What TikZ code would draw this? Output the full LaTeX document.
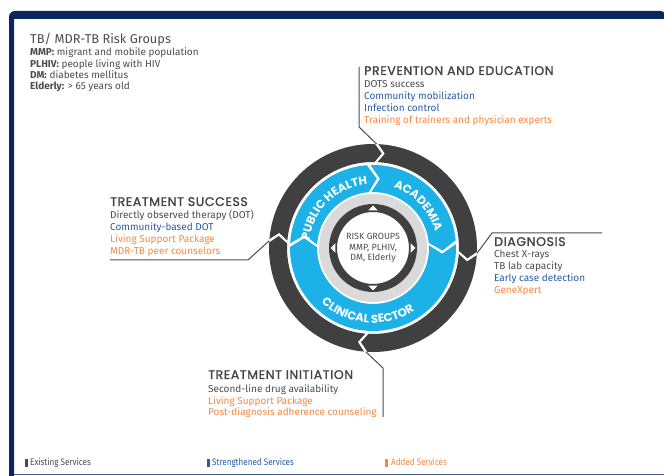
\documentclass[tikz,border=0pt]{standalone}
\usepackage{fontspec}
\setmainfont{Fira Sans}
\newfontfamily\legendfont[FakeStretch=0.85]{Fira Sans}
\newfontfamily\headfont[FakeBold=1.5, LetterSpace=5]{Poppins}
\newfontfamily\wheelfont{Poppins}
\usetikzlibrary{decorations.text}

\definecolor{navy}{HTML}{0B2561}
\definecolor{ringdark}{HTML}{404040}
\definecolor{ringblue}{HTML}{1CB2E8}
\definecolor{ringgray}{HTML}{DADADA}
\definecolor{txtgray}{HTML}{4D4D4D}
\definecolor{txtblue}{HTML}{2B5CA6}
\definecolor{txtorange}{HTML}{F28A45}

\newcommand\rlfont{\wheelfont\fontsize{11.6}{13}\selectfont\bfseries}

% ring piece: point at its clockwise end, notch at the other end
% #1 colour, #2 inner r, #3 outer r, #4 from joint, #5 to joint, #6 tip depth
\newcommand\chevring[6]{%
  \pgfmathsetmacro\chevmid{(#2+#3)/2}%
  \pgfmathsetmacro\chevgap{1.6/\chevmid*180/pi}%
  \pgfmathsetmacro\chevtip{#6/\chevmid*180/pi}%
  \pgfmathsetmacro\chevfrom{#4-\chevgap}%
  \pgfmathsetmacro\chevto{#5+\chevgap}%
  \fill[#1] (\chevfrom:#3) arc[start angle=\chevfrom, end angle=\chevto, radius=#3]
    -- ({\chevto-\chevtip}:\chevmid) -- (\chevto:#2)
    arc[start angle=\chevto, end angle=\chevfrom, radius=#2]
    -- ({\chevfrom-\chevtip}:\chevmid) -- cycle;}

\begin{document}
\begin{tikzpicture}[x=1pt, y=1pt,
  body/.style={anchor=base west, inner sep=0pt, font=\fontsize{10}{11}\selectfont},
  head/.style={anchor=base west, inner sep=0pt, text=txtgray!90!black, font=\headfont\fontsize{12.5}{14}\selectfont},
  legend/.style={anchor=base west, inner sep=0pt, font=\legendfont\fontsize{9.5}{11}\selectfont},
  leader/.style={draw=txtgray, line width=1pt},
  ringlabel/.style={decorate, decoration={text along path, text align=center, text color=white}}]
\useasboundingbox (0,0) rectangle (664,476);
\fill[white] (0,0) rectangle (664,476);

% frame
\fill[navy, rounded corners=6pt] (9,-2) |- (666,465) [sharp corners] -- (666,457) -- (14,457) -- (14,-2) -- cycle;
\draw[navy!75, line width=0.8pt] (14,1.6) -- (664,1.6);

% the wheel
\begin{scope}[shift={(373,228)}]
  \foreach \a/\b in {176/88, 88/-3, -3/-94, -94/-184}
    \chevring{ringdark}{86}{104}{\a}{\b}{7};
  \foreach \a/\b in {178/93, 93/4, 4/-182}
    \chevring{ringblue}{56}{83}{\a}{\b}{9};
  \fill[ringgray, even odd rule] (0,0) circle[radius=54] (0,0) circle[radius=44];
  \fill[ringdark, even odd rule] (0,0) circle[radius=44] (0,0) circle[radius=36];
  \foreach \a in {0,90,180,270}
    \fill[white] (\a:42.5) -- (\a+7:38) -- (\a-7:38) -- cycle;
  \path[ringlabel, decoration={text={|\rlfont|PUBLIC HEALTH}}]
    (200:64) arc[start angle=200, end angle=68, radius=64];
  \path[ringlabel, decoration={text={|\rlfont|ACADEMIA}}]
    (110:64) arc[start angle=110, end angle=-24, radius=64];
  \path[ringlabel, decoration={text={|\rlfont|CLINICAL SECTOR}}]
    (200:75) arc[start angle=200, end angle=330, radius=75];
  \node[align=center, inner sep=0pt, text=txtgray, font=\fontsize{9}{10.5}\selectfont] (riskc) at (0,0)
    {RISK GROUPS\\MMP, PLHIV,\\DM, Elderly};
  \coordinate (jPE) at (88:104);
  \coordinate (jTS) at (176:104);
  \coordinate (jDG) at (-3:104);
  \coordinate (jTI) at (-94:104);
\end{scope}

% risk groups key
\node[anchor=base west, inner sep=0pt, text=txtgray, font=\fontsize{12.8}{15}\selectfont] (riskhead) at (30,432)
  {TB/ MDR-TB Risk Groups};
\foreach \k/\v [count=\i] in {MMP:/migrant and mobile population, PLHIV:/people living with HIV,
    DM:/diabetes mellitus, Elderly:/> 65 years old}
  \node[body, text=txtgray] (risk\i) at (30,{431.3-11.3*\i}) {\textbf{\k} \v};

% prevention and education
\node[head] (hPE) at (364,401) {PREVENTION AND EDUCATION};
\foreach \t/\c [count=\i] in {DOTS success/txtgray, Community mobilization/txtblue,
    Infection control/txtblue, Training of trainers and physician experts/txtorange}
  \node[body, text=\c] (pe\i) at (364,{400-12*\i}) {\t};

% treatment success
\node[head] (hTS) at (110,270) {TREATMENT SUCCESS};
\foreach \t/\c [count=\i] in {Directly observed therapy (DOT)/txtgray, Community-based DOT/txtblue,
    Living Support Package/txtorange, MDR-TB peer counselors/txtorange}
  \node[body, text=\c] (ts\i) at (110,{268.7-11.7*\i}) {\t};

% diagnosis
\node[head] (hDG) at (494,230) {DIAGNOSIS};
\foreach \t/\c [count=\i] in {Chest X-rays/txtgray, TB lab capacity/txtgray,
    Early case detection/txtblue, GeneXpert/txtorange}
  \node[body, text=\c] (dg\i) at (494,{230-12*\i}) {\t};

% treatment initiation
\node[head] (hTI) at (208,97) {TREATMENT INITIATION};
\foreach \t/\c [count=\i] in {Second-line drug availability/txtgray,
    Living Support Package/txtorange, Post-diagnosis adherence counseling/txtorange}
  \node[body, text=\c] (ti\i) at (208,{94.5-11.5*\i}) {\t};

% leaders from the wheel
\draw[leader] (jPE) -- (359,349) -- (359,409);
\draw[leader] (jTS) -- (248,216) -- (110,216);
\draw[leader] (jDG) -- (492,243) -- (602,243);
\draw[leader] (jTI) -- (383,108) -- (383,59);

% legend
\fill[txtgray] (25,9) rectangle (28,17);
\node[legend, text=txtgray] (lgOld) at (30,10) {Existing Services};
\fill[txtblue] (207,9) rectangle (210,17);
\node[legend, text=txtblue] (lgStr) at (212,10) {Strengthened Services};
\fill[txtorange] (385,9) rectangle (388,17);
\node[legend, text=txtorange] (lgAdd) at (391,10) {Added Services};
\end{tikzpicture}
\end{document}
